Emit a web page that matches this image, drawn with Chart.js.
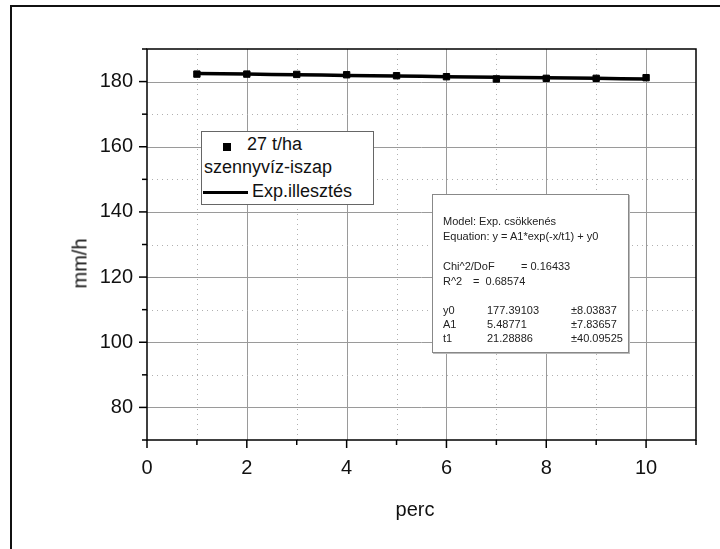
<!DOCTYPE html>
<html>
<head>
<meta charset="utf-8">
<script src="https://cdn.jsdelivr.net/npm/chart.js@4"></script>
<style>
  body { margin: 0; background: #fff; }
  #wrap { position: relative; width: 720px; height: 549px; font-family: 'Liberation Sans', Arial, sans-serif; }
  #frame { position: absolute; left: 10px; top: 5px; width: 730px; height: 560px; border-left: 2px solid #111; border-top: 2px solid #111; }
  canvas { position: absolute; left: 0; top: 0; }
  .lbl { position: absolute; color: #111; white-space: nowrap; }
  #legend { position: absolute; left: 201px; top: 131px; width: 171px; height: 72px; border: 1px solid #666; background: #fff; font-size: 18px; }
  #stats { position: absolute; left: 432px; top: 194px; width: 195px; height: 157px; border: 1px solid #888; background: #fff; font-size: 11px; color: #222; box-shadow: 1px 1px 0 #bbb; }
  #stats div { position: absolute; white-space: nowrap; }
</style>
</head>
<body>
<div id="wrap">
  <div id="frame"></div>
  <canvas id="grafico" width="720" height="549"></canvas>
  <div class="lbl" style="left:45px; top:252px; font-size:20px; transform: rotate(-90deg); transform-origin: center; width:70px; text-align:center;">mm/h</div>
  <div class="lbl" style="left:380px; top:498px; font-size:20px; width:70px; text-align:center;">perc</div>
  <div id="legend">
    <div class="lbl" style="left:21px; top:11px; width:8px; height:8px; background:#000;"></div>
    <div class="lbl" style="left:45px; top:2px;">27 t/ha</div>
    <div class="lbl" style="left:2px; top:25px;">szennyvíz-iszap</div>
    <div class="lbl" style="left:1px; top:59px; width:45px; height:3px; background:#000;"></div>
    <div class="lbl" style="left:50px; top:49px;">Exp.illesztés</div>
  </div>
  <div id="stats">
    <div style="left:10px; top:20px;">Model: Exp. csökkenés</div>
    <div style="left:10px; top:35px;">Equation: y = A1*exp(-x/t1) + y0</div>
    <div style="left:10px; top:65px;">Chi^2/DoF</div>
    <div style="left:88px; top:65px;">= 0.16433</div>
    <div style="left:10px; top:80px;">R^2</div>
    <div style="left:40px; top:80px;">=&nbsp; 0.68574</div>
    <div style="left:10px; top:109px;">y0</div>
    <div style="left:54px; top:109px;">177.39103</div>
    <div style="left:138px; top:109px;">±8.03837</div>
    <div style="left:10px; top:123px;">A1</div>
    <div style="left:54px; top:123px;">5.48771</div>
    <div style="left:138px; top:123px;">±7.83657</div>
    <div style="left:10px; top:137px;">t1</div>
    <div style="left:54px; top:137px;">21.28886</div>
    <div style="left:138px; top:137px;">±40.09525</div>
  </div>
</div>
<script>
// adatok - perc / mm/h
const percek = [1, 2, 3, 4, 5, 6, 7, 8, 9, 10]
const meresek = [182.3, 182.3, 182.2, 182.1, 181.8, 181.5, 180.8, 181.0, 181.0, 181.2]
const illesztes = [182.5, 182.3, 182.1, 181.9, 181.7, 181.5, 181.3, 181.2, 181.0, 180.8]

const xFoosztas = [0, 2, 4, 6, 8, 10]
const yFoosztas = [80, 100, 120, 140, 160, 180]

// racsvonalak, keret es tickek kezzel
const racsPlugin = {
    id: 'racs',
    beforeDatasetsDraw(chart) {
        const ctx = chart.ctx
        const a = chart.chartArea
        const xs = chart.scales.x
        const ys = chart.scales.y
        ctx.save()
        ctx.lineWidth = 1
        for (let v = 1; v <= 10; v++) {
            const px = Math.round(xs.getPixelForValue(v)) + 0.5
            const major = v % 2 === 0
            ctx.strokeStyle = major ? '#9a9a9a' : '#b0b0b0'
            ctx.setLineDash(major ? [] : [1, 4])
            ctx.beginPath(); ctx.moveTo(px, a.top); ctx.lineTo(px, a.bottom); ctx.stroke()
        }
        for (let v = 80; v <= 180; v += 10) {
            const py = Math.round(ys.getPixelForValue(v)) + 0.5
            const major = v % 20 === 0
            ctx.strokeStyle = major ? '#9a9a9a' : '#b0b0b0'
            ctx.setLineDash(major ? [] : [1, 4])
            ctx.beginPath(); ctx.moveTo(a.left, py); ctx.lineTo(a.right, py); ctx.stroke()
        }
        ctx.setLineDash([])
        ctx.strokeStyle = '#000'
        ctx.lineWidth = 1.5
        ctx.strokeRect(a.left, a.top, a.right - a.left, a.bottom - a.top)
        // tickek
        for (let v = 0; v <= 11; v++) {
            const px = xs.getPixelForValue(v)
            const len = v % 2 === 0 ? 8 : 5
            ctx.beginPath(); ctx.moveTo(px, a.bottom); ctx.lineTo(px, a.bottom + len); ctx.stroke()
        }
        for (let v = 70; v <= 190; v += 10) {
            const py = ys.getPixelForValue(v)
            const len = v % 20 === 0 ? 8 : 5
            ctx.beginPath(); ctx.moveTo(a.left, py); ctx.lineTo(a.left - len, py); ctx.stroke()
        }
        ctx.restore()
    }
}

const meuchart = document.getElementById('grafico')

const data = {
    datasets: [
        {
            label: '27 t/ha szennyvíz-iszap',
            data: percek.map((x, i) => ({ x: x, y: meresek[i] })),
            showLine: false,
            pointStyle: 'rect',
            pointRadius: 4.5,
            backgroundColor: '#000',
            borderColor: '#000',
            order: 1,
        },
        {
            label: 'Exp.illesztés',
            data: percek.map((x, i) => ({ x: x, y: illesztes[i] })),
            showLine: true,
            borderColor: '#000',
            borderWidth: 3.5,
            pointRadius: 0,
            tension: 0.3,
            order: 2,
        },
    ]
}

const config = {
    type: 'scatter',
    data: data,
    options: {
        responsive: false,
        animation: false,
        layout: { padding: { left: 0, top: 49, right: 24, bottom: 0 } },
        plugins: {
            legend: { display: false },
            tooltip: { enabled: false },
        },
        scales: {
            x: {
                type: 'linear',
                min: 0,
                max: 11,
                afterFit: (s) => { s.height = 109 },
                grid: { display: false, drawTicks: false },
                border: { display: false },
                ticks: {
                    stepSize: 1,
                    padding: 16,
                    color: '#111',
                    font: { size: 20, family: 'Liberation Sans' },
                    callback: (v) => xFoosztas.includes(v) ? v : '',
                },
            },
            y: {
                min: 70,
                max: 190,
                afterFit: (s) => { s.width = 147 },
                grid: { display: false, drawTicks: false },
                border: { display: false },
                ticks: {
                    stepSize: 10,
                    padding: 14,
                    color: '#111',
                    font: { size: 20, family: 'Liberation Sans' },
                    callback: (v) => yFoosztas.includes(v) ? v : '',
                },
            },
        },
    },
    plugins: [racsPlugin],
}

const chart = new Chart(meuchart, config)
</script>
</body>
</html>
